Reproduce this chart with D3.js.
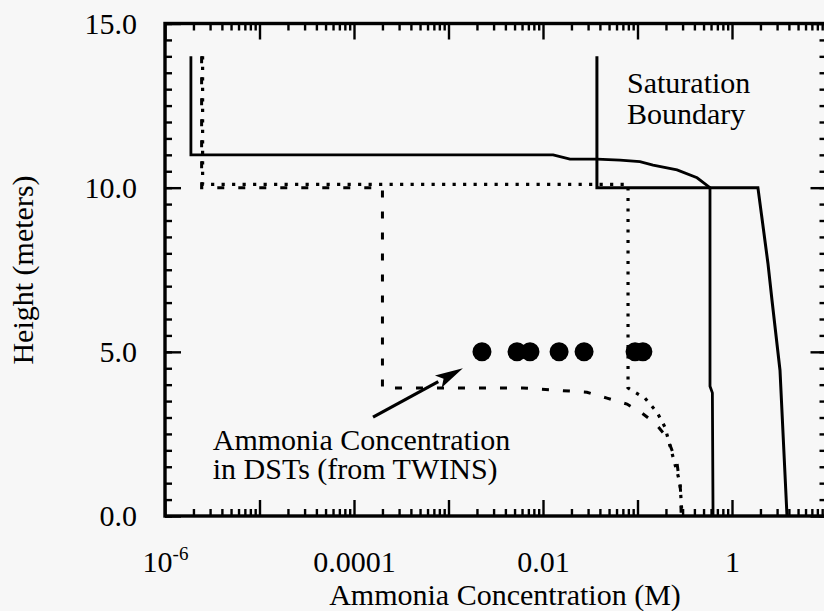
<!DOCTYPE html>
<html>
<head>
<meta charset="utf-8">
<script src="https://cdn.jsdelivr.net/npm/d3@7"></script>
<style>
    body { margin: 0; background: #f7f7f7; }
    svg { display: block; font-family: "Liberation Serif", "Times New Roman", serif; }
</style>
</head>
<body>
<script>
//profiles, each point is [concentration (M), height (m)]
var saturationBoundary = [[0.0372, 14.0], [0.0372, 10.0], [1.88, 10.0], [2.40, 7.7], [2.65, 6.57], [3.22, 4.44], [3.82, 0]];

var profileSolid = [[1.88e-6, 14.0], [1.88e-6, 11.0], [0.0128, 11.0], [0.0193, 10.87], [0.0372, 10.87],
    [0.0653, 10.84], [0.106, 10.79], [0.146, 10.69], [0.262, 10.54], [0.427, 10.3], [0.585, 10.0],
    [0.585, 3.95], [0.62, 3.75], [0.63, 0]];

var profileDashed = [[2.44e-6, 14.0], [2.44e-6, 10.0], [2.0e-4, 10.0], [2.0e-4, 3.9], [0.0061, 3.9],
    [0.0141, 3.83], [0.0292, 3.77], [0.0475, 3.59], [0.0774, 3.41], [0.112, 3.13], [0.153, 2.83],
    [0.205, 2.4], [0.262, 1.61], [0.285, 0.8], [0.29, 0]];

var profileDotted = [[2.5e-6, 14.0], [2.5e-6, 10.1], [0.0794, 10.1], [0.0794, 3.9], [0.094, 3.77],
    [0.12, 3.59], [0.161, 3.16], [0.195, 2.71], [0.238, 1.79], [0.282, 1.0], [0.296, 0]];

//twins measurements, all at 5 m
var twinsConc = [0.00226, 0.00531, 0.00728, 0.0148, 0.0272, 0.0942, 0.114];
var twinsHeight = 5.0;

//arrow from the label to the points
var arrowFrom = [1.59e-4, 3.01];
var arrowTo = [0.00142, 4.5];

//tick labels
var xTickValues = [1e-6, 1e-4, 1e-2, 1];
var xTickLabels = ["10", "0.0001", "0.01", "1"];
var yTickValues = [0, 5, 10, 15];
var yTickLabels = ["0.0", "5.0", "10.0", "15.0"];

var width = 824;
var height = 611;
var fontSize = 30;

var x = d3.scaleLog()
    .domain([1e-6, 10])
    .range([165, 826.5]);

var y = d3.scaleLinear()
    .domain([0, 15])
    .range([516, 23.5]);

const svg = d3.select("body").append("svg")
    .attr("width", width)
    .attr("height", height);

var xMinor = x.ticks().filter(d => Math.abs(Math.log10(d) % 1) > 1e-6);
var xMajor = x.ticks().filter(d => Math.abs(Math.log10(d) % 1) < 1e-6);
var yMinor = y.ticks(30);

//ticks on all four sides, pointing in
var tickAxes = [
    [d3.axisBottom(x).tickValues(xMinor).tickSize(-7), `translate(0,${y(0)})`],
    [d3.axisBottom(x).tickValues(xMajor).tickSize(-16), `translate(0,${y(0)})`],
    [d3.axisTop(x).tickValues(xMinor).tickSize(-7), `translate(0,${y(15)})`],
    [d3.axisTop(x).tickValues(xMajor).tickSize(-16), `translate(0,${y(15)})`],
    [d3.axisLeft(y).tickValues(yMinor).tickSize(-7), `translate(${x(1e-6)},0)`],
    [d3.axisLeft(y).tickValues(yTickValues).tickSize(-16), `translate(${x(1e-6)},0)`],
    [d3.axisRight(y).tickValues(yMinor).tickSize(-7), `translate(${x(10)},0)`],
    [d3.axisRight(y).tickValues(yTickValues).tickSize(-16), `translate(${x(10)},0)`]
];

tickAxes.forEach(function(a) {
    svg.append("g")
        .attr("transform", a[1])
        .call(a[0].tickFormat(""))
        .call(g => g.select(".domain").remove())
        .call(g => g.selectAll(".tick line").attr("stroke", "#000").attr("stroke-width", 2.4));
});

//frame
svg.append("rect")
    .attr("x", x(1e-6))
    .attr("y", y(15))
    .attr("width", x(10) - x(1e-6))
    .attr("height", y(0) - y(15))
    .attr("fill", "none")
    .attr("stroke", "#000")
    .attr("stroke-width", 3.4);

//y labels
svg.append("g")
    .attr("transform", `translate(${x(1e-6)},0)`)
    .call(d3.axisLeft(y).tickValues(yTickValues).tickFormat((d, i) => yTickLabels[i]).tickSize(0).tickPadding(28))
    .call(g => g.select(".domain").remove())
    .call(g => g.selectAll("text").attr("fill", "#000"))
    .attr("font-family", null)
    .attr("font-size", fontSize);

//x labels
svg.append("g")
    .attr("transform", `translate(0,${y(0)})`)
    .call(d3.axisBottom(x).tickValues(xTickValues).tickFormat((d, i) => xTickLabels[i]).tickSize(0))
    .call(g => g.select(".domain").remove())
    .attr("font-family", null)
    .attr("font-size", fontSize)
    .call(g => g.selectAll("text")
        .attr("dy", null)
        .attr("y", 56)
        .attr("fill", "#000")
        .filter(d => d === 1e-6)
        .append("tspan")
        .attr("font-size", 19)
        .attr("dy", -12)
        .text("-6"));

//axis titles
svg.append("text")
    .attr("x", 505)
    .attr("y", 605)
    .attr("text-anchor", "middle")
    .attr("font-size", fontSize)
    .text("Ammonia Concentration (M)");

svg.append("text")
    .attr("transform", "translate(33,270) rotate(-90)")
    .attr("text-anchor", "middle")
    .attr("font-size", fontSize)
    .text("Height (meters)");

//profile lines
var line = d3.line()
    .x(d => x(d[0]))
    .y(d => y(d[1]));

svg.append("path")
    .attr("d", line(saturationBoundary))
    .attr("fill", "none")
    .attr("stroke", "#000")
    .attr("stroke-width", 3);

svg.append("path")
    .attr("d", line(profileSolid))
    .attr("fill", "none")
    .attr("stroke", "#000")
    .attr("stroke-width", 2.8);

svg.append("path")
    .attr("d", line(profileDashed))
    .attr("fill", "none")
    .attr("stroke", "#000")
    .attr("stroke-width", 3)
    .attr("stroke-dasharray", "7,14");

svg.append("path")
    .attr("d", line(profileDotted))
    .attr("fill", "none")
    .attr("stroke", "#000")
    .attr("stroke-width", 3.2)
    .attr("stroke-dasharray", "3.2,7.3");

//twins points
svg.append("g")
    .selectAll("circle").data(twinsConc).enter().append("circle")
    .attr("cx", d => x(d))
    .attr("cy", y(twinsHeight))
    .attr("r", 9.5)
    .attr("fill", "#000");

//arrow
var ax0 = x(arrowFrom[0]), ay0 = y(arrowFrom[1]);
var ax1 = x(arrowTo[0]), ay1 = y(arrowTo[1]);
var ang = Math.atan2(ay1 - ay0, ax1 - ax0);
var headLen = 28, headHalf = 7;
var bx = ax1 - headLen * Math.cos(ang), by = ay1 - headLen * Math.sin(ang);

svg.append("line")
    .attr("x1", ax0)
    .attr("y1", ay0)
    .attr("x2", bx)
    .attr("y2", by)
    .attr("stroke", "#000")
    .attr("stroke-width", 3.2);

svg.append("path")
    .attr("d", `M${ax1},${ay1}L${bx - headHalf * Math.sin(ang)},${by + headHalf * Math.cos(ang)}L${bx + 6 * Math.cos(ang)},${by + 6 * Math.sin(ang)}L${bx + headHalf * Math.sin(ang)},${by - headHalf * Math.cos(ang)}Z`)
    .attr("fill", "#000");

//annotations
svg.append("text")
    .attr("x", x(3.2e-6))
    .attr("y", y(2.0))
    .attr("font-size", fontSize)
    .text("Ammonia Concentration");

svg.append("text")
    .attr("x", x(3.2e-6))
    .attr("y", y(2.0) + 29)
    .attr("font-size", fontSize)
    .text("in DSTs (from TWINS)");

svg.append("text")
    .attr("x", x(0.0774))
    .attr("y", y(12.88))
    .attr("font-size", fontSize)
    .text("Saturation");

svg.append("text")
    .attr("x", x(0.0774))
    .attr("y", y(12.88) + 31)
    .attr("font-size", fontSize)
    .text("Boundary");
</script>
</body>
</html>
